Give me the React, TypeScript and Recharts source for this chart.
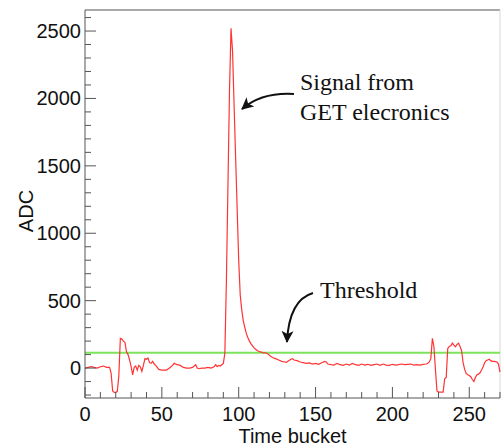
import { LineChart, Line, XAxis, YAxis, ReferenceLine } from 'recharts';

// time bucket -> ADC
const buckets = [
  0, 2, 4, 6, 8, 10, 12, 14, 16, 17, 18, 19, 20, 21, 22, 23, 24, 25, 26, 27, 28, 29,
  30, 31, 32, 33, 34, 35, 36, 37, 38, 39, 40, 41, 42, 43, 44, 45, 46, 48, 50, 53, 55,
  57, 58, 60, 62, 64, 66, 68, 70, 72, 73, 74, 76, 78, 80, 82, 84, 85, 86, 87, 88, 89,
  90, 91, 92, 93, 94, 95, 96, 97, 98, 99, 100, 101, 102, 103, 104, 105, 106, 107, 108,
  109, 110, 111, 112, 113, 114, 115, 116, 117, 118, 119, 120, 121, 122, 124, 126, 128,
  130, 131, 132, 134, 135, 136, 138, 140, 142, 144, 146, 148, 150, 152, 154, 156, 157,
  158, 160, 162, 164, 166, 168, 170, 172, 174, 176, 178, 180, 182, 184, 186, 188, 190,
  192, 194, 196, 198, 200, 202, 204, 206, 208, 210, 212, 214, 216, 218, 220, 222, 223,
  224, 225, 226, 227, 228, 229, 230, 232, 233, 234, 235, 236, 237, 238, 239, 240, 241,
  242, 243, 244, 245, 246, 247, 248, 249, 250, 251, 252, 253, 254, 255, 256, 257, 258,
  259, 260, 261, 262, 263, 264, 265, 266, 267, 268, 269, 270,
];
const adc = [
  0, 5, 10, 5, 0, 10, 15, 5, 5, -40, -170, -180, -180, -175, -60, 220, 215, 200, 190, 120, 100, 60,
  10, -50, 5, 15, -15, 20, 10, -25, 20, 70, 65, 75, 40, 35, 50, 30, 20, -10, -15, -15, 0,
  20, 35, 25, 20, 5, 0, 0, 5, 25, 0, -5, 0, 0, 5, 0, 10, 25, 10, 20, 15, 25,
  35, 110, 650, 1350, 2050, 2520, 2350, 1950, 1560, 1180, 800, 540, 430, 350, 300, 255, 225, 200, 180,
  165, 150, 140, 130, 125, 120, 118, 112, 115, 110, 105, 95, 85, 78, 70, 60, 50,
  45, 42, 50, 65, 70, 60, 55, 45, 40, 35, 38, 30, 35, 28, 40, 50, 45,
  30, 25, 22, 35, 25, 20, 30, 22, 35, 25, 20, 30, 22, 28, 20, 25, 30,
  20, 30, 22, 20, 28, 22, 25, 30, 25, 28, 30, 22, 25, 22, 28, 30, 35,
  45, 70, 220, 160, -10, -170, -178, -178, -178, -80, -70, 145, 160, 165, 185, 170, 158,
  175, 185, 160, 130, 40, -10, -40, -50, -55, -64, -85, -100, -70, -50, -45, -35, -15,
  10, 40, 55, 60, 65, 55, 50, 50, 48, 45, 30, -30,
];
const threshold = 113;

const xTicks = [
  0, 10, 20, 30, 40, 50, 60, 70, 80, 90, 100, 110, 120, 130, 140, 150, 160, 170, 180,
  190, 200, 210, 220, 230, 240, 250, 260, 270,
];
const yTicks = [
  -200, -100, 0, 100, 200, 300, 400, 500, 600, 700, 800, 900, 1000, 1100, 1200, 1300,
  1400, 1500, 1600, 1700, 1800, 1900, 2000, 2100, 2200, 2300, 2400, 2500, 2600,
];
const xMax = 270;
const yMin = -222;
const yMax = 2656;

const data = buckets.map((b, i) => ({ bucket: b, adc: adc[i] }));

const axisColor = '#555';
const sans = '"Liberation Sans", Arial, sans-serif';
const serif = '"Liberation Serif", "Times New Roman", serif';

function YTick({ x, y, payload }: any) {
  const major = payload.value % 500 === 0;
  return (
    <g>
      <line x1={x} x2={x + (major ? 11 : 6)} y1={y} y2={y} stroke={axisColor} />
      {major && (
        <text x={x - 4} y={y} textAnchor="end" dominantBaseline="central" fontSize={20} fontFamily={sans} fill="#111">
          {payload.value}
        </text>
      )}
    </g>
  );
}

function XTick({ x, y, payload }: any) {
  const major = payload.value % 50 === 0;
  return (
    <g>
      <line x1={x} x2={x} y1={y} y2={y - (major ? 11 : 6)} stroke={axisColor} />
      {major && (
        <text x={x} y={y + 23} textAnchor="middle" fontSize={20} fontFamily={sans} fill="#111">
          {payload.value}
        </text>
      )}
    </g>
  );
}

export default function App() {
  return (
    <div style={{ position: 'absolute', left: 0, top: 0, width: 501, height: 448, background: '#fff' }}>
      <LineChart width={501} height={448} data={data} margin={{ top: 10, right: 1, left: 0, bottom: 0 }}>
        <XAxis
          dataKey="bucket"
          type="number"
          domain={[0, xMax]}
          ticks={xTicks}
          interval={0}
          height={50}
          tickSize={0}
          tickMargin={0}
          tickLine={false}
          stroke={axisColor}
          tick={<XTick />}
          label={{
            content: ({ viewBox }: any) => (
              <text
                x={viewBox.x + viewBox.width / 2}
                y={viewBox.y + 45}
                textAnchor="middle"
                fontSize={20}
                fontFamily={sans}
                fill="#111"
              >
                Time bucket
              </text>
            ),
          }}
        />
        <YAxis
          type="number"
          domain={[yMin, yMax]}
          ticks={yTicks}
          interval={0}
          width={85}
          tickSize={0}
          tickMargin={0}
          tickLine={false}
          allowDataOverflow
          stroke={axisColor}
          tick={<YTick />}
          label={{
            content: ({ viewBox }: any) => {
              const cx = viewBox.x + 26;
              const cy = viewBox.y + viewBox.height / 2 + 7;
              return (
                <text
                  x={cx}
                  y={cy}
                  transform={`rotate(-90 ${cx} ${cy})`}
                  textAnchor="middle"
                  dominantBaseline="central"
                  fontSize={20}
                  fontFamily={sans}
                  fill="#111"
                >
                  ADC
                </text>
              );
            },
          }}
        />
        <ReferenceLine y={yMax} stroke={axisColor} strokeWidth={1.2} />
        <ReferenceLine x={xMax} stroke="#d8d8d8" />
        <ReferenceLine y={threshold} stroke="#7ce35c" strokeWidth={2} />
        <Line
          type="linear"
          dataKey="adc"
          stroke="#ff3333"
          strokeWidth={1.2}
          dot={false}
          isAnimationActive={false}
        />
      </LineChart>
      <svg
        width={501}
        height={448}
        style={{ position: 'absolute', left: 0, top: 0, pointerEvents: 'none' }}
      >
        <defs>
          <marker id="head" viewBox="0 0 12 12" refX="11" refY="6" markerWidth="12" markerHeight="12" orient="auto" markerUnits="userSpaceOnUse">
            <path d="M0,0 L12,6 L0,12 L3,6 Z" fill="#111" />
          </marker>
        </defs>
        <path d="M294,94 Q262,92 242,109" fill="none" stroke="#111" strokeWidth={2} markerEnd="url(#head)" />
        <path d="M313,293 Q289,300 287,342" fill="none" stroke="#111" strokeWidth={2} markerEnd="url(#head)" />
        <text x={300} y={90} fontSize={24} fontFamily={serif} fill="#111">Signal from</text>
        <text x={300} y={120} fontSize={24} fontFamily={serif} fill="#111">GET elecronics</text>
        <text x={320} y={298} fontSize={24} fontFamily={serif} fill="#111">Threshold</text>
      </svg>
    </div>
  );
}
